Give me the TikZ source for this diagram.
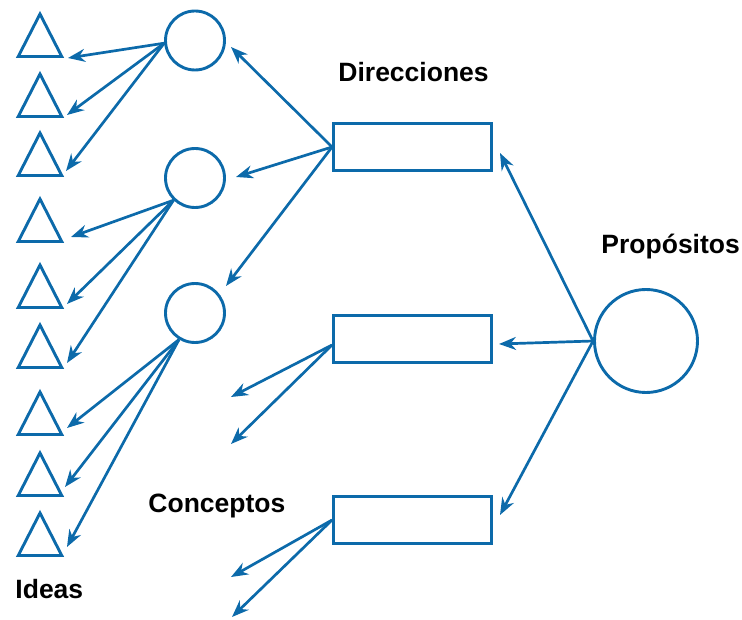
\documentclass[tikz,border=0pt]{standalone}
\usepackage{fontspec}
\setmainfont{Liberation Sans}
\usetikzlibrary{shapes.geometric,arrows.meta}
\definecolor{dblue}{RGB}{12,106,170}
\begin{document}
\begin{tikzpicture}[x=1pt,y=-1pt,
  line width=2.9pt, dblue,
  tri/.style={draw, isosceles triangle, isosceles triangle stretches, shape border rotate=90, minimum width=43.5pt, minimum height=42.5pt, inner sep=0pt, outer sep=0pt, anchor=lower side},
  circ/.style={draw, circle, minimum size=59pt, inner sep=0pt},
  bigc/.style={draw, circle, minimum size=103pt, inner sep=0pt},
  rbox/.style={draw, rectangle, minimum width=158pt, minimum height=47pt, inner sep=0pt},
  arr/.style={-{Stealth[length=17pt,width=13pt,inset=5.5pt]}, line width=2.7pt},
  lbl/.style={text=black, font=\fontsize{26.5}{30}\selectfont\bfseries, anchor=base west, inner sep=0pt}
]
\useasboundingbox (0,0) rectangle (742,620);

% triangles (Ideas)
\node[tri] (t1) at (40,56.5) {};
\node[tri] (t2) at (40,116.5) {};
\node[tri] (t3) at (40,175.5) {};
\node[tri] (t4) at (40,241.5) {};
\node[tri] (t5) at (40,307.5) {};
\node[tri] (t6) at (40,367.5) {};
\node[tri] (t7) at (40,434.5) {};
\node[tri] (t8) at (40,495.5) {};
\node[tri] (t9) at (40,555.5) {};

% circles
\node[circ] (c1) at (195,40.5) {};
\node[circ] (c2) at (195,178) {};
\node[circ] (c3) at (195,313) {};

% rectangles
\node[rbox] (r1) at (412.5,147) {};
\node[rbox] (r2) at (412.5,339) {};
\node[rbox] (r3) at (412.5,520) {};

% big circle
\node[bigc] (P) at (646,341) {};

% labels
\node[lbl] (ldir) at (337,82) {Direcciones};
\node[lbl] (lprop) at (600,254) {Propósitos};
\node[lbl] (lconc) at (147,512) {Conceptos};
\node[lbl] (lideas) at (14,598) {Ideas};

% arrow tip coordinates
\coordinate (a1) at (68,58);
\coordinate (a2) at (67,115);
\coordinate (a3) at (66,171);
\coordinate (a4) at (71,237);
\coordinate (a5) at (67,304);
\coordinate (a6) at (67,363);
\coordinate (a7) at (67,428);
\coordinate (a8) at (65,487);
\coordinate (a9) at (67,547);
\coordinate (b1) at (231,47);
\coordinate (b2) at (236,177);
\coordinate (b3) at (226,286);
\coordinate (s2) at (332,345);
\coordinate (d1) at (231,397);
\coordinate (d2) at (231,444);
\coordinate (e1) at (231,577);
\coordinate (e2) at (232,617);
\coordinate (p1) at (500,153);
\coordinate (p2) at (499,344);
\coordinate (p3) at (500,515);

% arrows
\draw[arr] (c1.185) -- (a1);
\draw[arr] (c1.185) -- (a2);
\draw[arr] (c1.185) -- (a3);
\draw[arr] (c2.226) -- (a4);
\draw[arr] (c2.226) -- (a5);
\draw[arr] (c2.226) -- (a6);
\draw[arr] (c3.239) -- (a7);
\draw[arr] (c3.239) -- (a8);
\draw[arr] (c3.239) -- (a9);
\draw[arr] (r1.west) -- (b1);
\draw[arr] (r1.west) -- (b2);
\draw[arr] (r1.west) -- (b3);
\draw[arr] (s2) -- (d1);
\draw[arr] (s2) -- (d2);
\draw[arr] (r3.west) -- (e1);
\draw[arr] (r3.west) -- (e2);
\draw[arr] (P.west) -- (p1);
\draw[arr] (P.west) -- (p2);
\draw[arr] (P.west) -- (p3);
\end{tikzpicture}
\end{document}
